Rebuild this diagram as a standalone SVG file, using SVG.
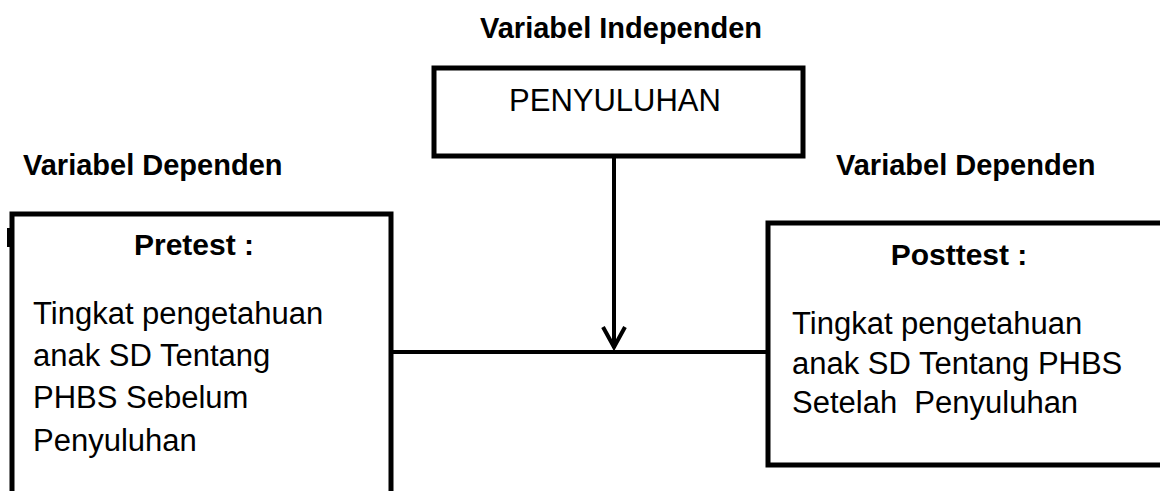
<svg xmlns="http://www.w3.org/2000/svg" width="1160" height="491" viewBox="0 0 1160 491">
<style>
.box{fill:#fff;stroke:#000;stroke-width:5}
.hdr{font-family:"Liberation Sans",Arial,sans-serif;font-weight:bold;font-size:29px;fill:#000}
.ttl{font-family:"Liberation Sans",Arial,sans-serif;font-weight:bold;font-size:30px;fill:#000}
.txt{font-family:"Liberation Sans",Arial,sans-serif;font-size:31px;fill:#000}
.conn{fill:none;stroke:#000;stroke-width:4}
</style>
<rect width="1160" height="491" fill="#fff"/>
<text class="hdr" x="621" y="38" text-anchor="middle">Variabel Independen</text>
<text class="hdr" x="23" y="175">Variabel Dependen</text>
<text class="hdr" x="836" y="175">Variabel Dependen</text>
<g id="connectors">
<line class="conn" x1="614" y1="156" x2="614" y2="348"/>
<polyline class="conn" points="603,327 614,347 625,327" stroke-width="5"/>
<line class="conn" x1="391" y1="352" x2="768" y2="352"/>
</g>
<g id="penyuluhan">
<rect class="box" x="434" y="68" width="369" height="88"/>
<text class="txt" x="615" y="111" text-anchor="middle" font-size="32">PENYULUHAN</text>
</g>
<g id="pretest">
<path class="box" d="M12,500 V214 H391 V500"/>
<rect x="7" y="228" width="5" height="19" fill="#000"/>
<text class="ttl" x="194" y="255" text-anchor="middle">Pretest :</text>
<text class="txt" x="33" y="324">Tingkat pengetahuan</text>
<text class="txt" x="33" y="366">anak SD Tentang</text>
<text class="txt" x="33" y="408">PHBS Sebelum</text>
<text class="txt" x="33" y="451">Penyuluhan</text>
</g>
<g id="posttest">
<path class="box" d="M1170,223 H768 V465 H1170"/>
<text class="ttl" x="959" y="265" text-anchor="middle" font-size="28">Posttest :</text>
<text class="txt" x="792" y="334">Tingkat pengetahuan</text>
<text class="txt" x="792" y="374" xml:space="preserve">anak SD Tentang PHBS</text>
<text class="txt" x="792" y="413" xml:space="preserve">Setelah  Penyuluhan</text>
</g>
</svg>
